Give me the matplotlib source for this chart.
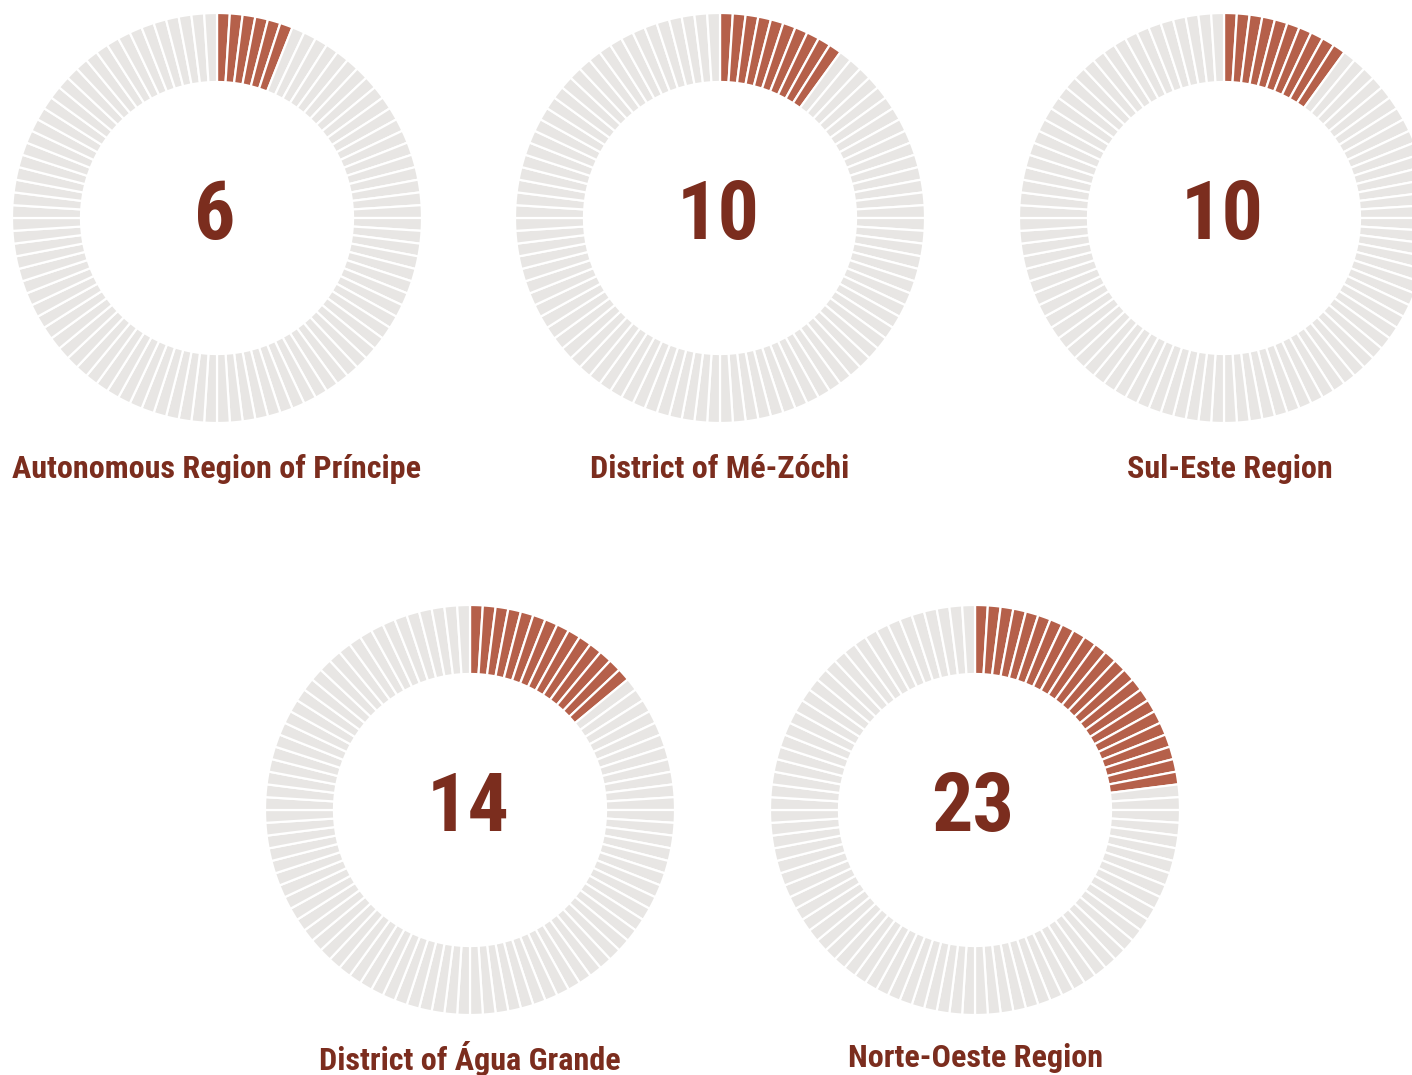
import matplotlib
matplotlib.use("Agg")
import matplotlib.pyplot as plt
from matplotlib import font_manager

regions = ["Autonomous Region of Príncipe", "District of Mé-Zóchi", "Sul-Este Region",
           "District of Água Grande", "Norte-Oeste Region"]
values = [6, 10, 10, 14, 23]
total_segments = 100

# layout (pixel centres)
centers = [(217, 218), (720, 218), (1224, 218), (470, 810), (975, 810)]
label_x = [217, 720, 1230, 470, 976]
label_y = [469, 469, 469, 1058, 1058]

W, H = 1412, 1075
fig = plt.figure(figsize=(W / 100, H / 100), dpi=100)
ax = fig.add_axes([0, 0, 1, 1])
ax.set_xlim(0, W)
ax.set_ylim(0, H)
ax.set_aspect("equal")
ax.axis("off")

avail = {f.name for f in font_manager.fontManager.ttflist}
condensed = [n for n in ["Roboto Condensed", "Liberation Sans Narrow", "Open Sans Condensed"] if n in avail]
fam = condensed[:1] if condensed else ["Roboto", "DejaVu Sans"]
is_cond = bool(condensed)

HI = "#b5604a"
GREY = "#e8e6e4"
TXT = "#7b2d1e"

R_OUT = 205
R_IN = 136
for (cx, cy), v, name, lx, ly in zip(centers, values, regions, label_x, label_y):
    sizes = [1] * total_segments
    colors = [HI if i < v else GREY for i in range(total_segments)]
    ax.pie(sizes, colors=colors, startangle=90, counterclock=False,
           center=(cx, H - cy), radius=R_OUT,
           wedgeprops=dict(width=R_OUT - R_IN, edgecolor="white", linewidth=1.6))
    ax.text(cx - 2, H - cy + 1, str(v), ha="center", va="center",
            fontsize=59 if is_cond else 54,
            fontweight="bold", color=TXT, family=fam)
    ax.text(lx, H - ly, name, ha="center", va="center",
            fontsize=23.2 if is_cond else 20.5,
            fontweight="bold", color=TXT, family=fam)

ax.set_xlim(0, W)
ax.set_ylim(0, H)
fig.savefig("out.png", dpi=100, facecolor="white")
